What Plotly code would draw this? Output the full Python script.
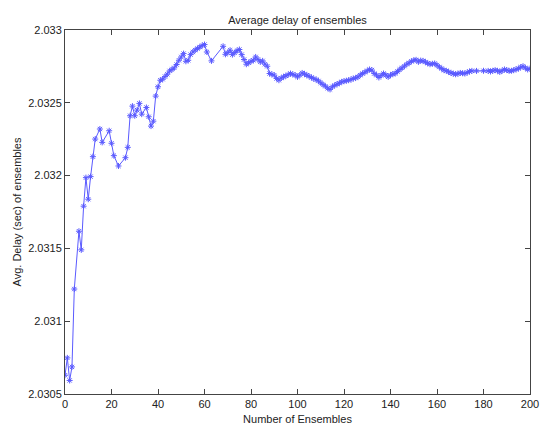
import plotly.graph_objects as go

# Running average of the delay as ensembles are added
ensembles = [
    0, 1, 2, 3, 4, 6, 7, 8, 9, 10, 11, 12, 13, 15, 16, 19, 20, 21, 23, 26,
    27, 28, 29, 30, 31, 32, 33, 35, 36, 37, 38, 39, 40, 41, 42, 43, 44, 45,
    46, 47, 48, 49, 50, 51, 52, 53, 54, 55, 56, 57, 58, 59, 60, 61, 63, 68,
    69, 70, 71, 72, 73, 74, 75, 76, 77, 78, 79, 80, 81, 82, 83, 84, 85, 86,
    87, 88, 89, 90, 91, 92, 93, 94, 95, 96, 97, 98, 99, 100, 101, 102, 103,
    104, 105, 106, 107, 108, 109, 110, 111, 112, 113, 114, 115, 116, 117,
    118, 119, 120, 121, 122, 123, 124, 125, 126, 127, 128, 129, 130, 131,
    132, 133, 134, 135, 136, 137, 138, 139, 140, 141, 142, 143, 144, 145,
    146, 147, 148, 149, 150, 151, 152, 153, 154, 155, 156, 157, 158, 159,
    160, 161, 162, 163, 164, 165, 166, 167, 168, 169, 170, 171, 172, 173,
    174, 175, 177, 180, 182, 183, 184, 185, 186, 187, 188, 189, 190, 191,
    192, 193, 194, 195, 196, 197, 198, 199, 200,
]
avg_delay = [
    2.030629, 2.030748, 2.030593, 2.030686, 2.031221, 2.031618, 2.031490,
    2.031790, 2.031986, 2.031838, 2.031993, 2.032130, 2.032251, 2.032320,
    2.032228, 2.032308, 2.032222, 2.032137, 2.032066, 2.032123, 2.032194,
    2.032411, 2.032477, 2.032411, 2.032450, 2.032496, 2.032422, 2.032468,
    2.032404, 2.032340, 2.032374, 2.032546, 2.032610, 2.032655, 2.032662,
    2.032680, 2.032696, 2.032719, 2.032729, 2.032740, 2.032763, 2.032792,
    2.032815, 2.032838, 2.032785, 2.032792, 2.032831, 2.032849, 2.032862,
    2.032873, 2.032883, 2.032893, 2.032900, 2.032849, 2.032788, 2.032888,
    2.032833, 2.032845, 2.032861, 2.032831, 2.032845, 2.032858, 2.032866,
    2.032831, 2.032797, 2.032765, 2.032775, 2.032785, 2.032792, 2.032815,
    2.032798, 2.032781, 2.032788, 2.032765, 2.032751, 2.032701, 2.032695,
    2.032690, 2.032667, 2.032655, 2.032670, 2.032678, 2.032685, 2.032693,
    2.032701, 2.032695, 2.032690, 2.032678, 2.032690, 2.032705, 2.032698,
    2.032690, 2.032682, 2.032674, 2.032665, 2.032660, 2.032650, 2.032637,
    2.032625, 2.032614, 2.032600, 2.032592, 2.032610, 2.032620, 2.032628,
    2.032635, 2.032644, 2.032648, 2.032652, 2.032655, 2.032660, 2.032667,
    2.032670, 2.032678, 2.032690, 2.032701, 2.032710, 2.032720, 2.032729,
    2.032725, 2.032701, 2.032690, 2.032674, 2.032688, 2.032701, 2.032690,
    2.032678, 2.032690, 2.032698, 2.032701, 2.032715, 2.032729, 2.032740,
    2.032752, 2.032765, 2.032774, 2.032785, 2.032792, 2.032795, 2.032781,
    2.032790, 2.032788, 2.032780, 2.032772, 2.032765, 2.032768, 2.032770,
    2.032758, 2.032746, 2.032735, 2.032724, 2.032720, 2.032712, 2.032705,
    2.032700, 2.032696, 2.032700, 2.032705, 2.032703, 2.032701, 2.032708,
    2.032715, 2.032719, 2.032719, 2.032720, 2.032719, 2.032715, 2.032720,
    2.032724, 2.032720, 2.032712, 2.032720, 2.032729, 2.032725, 2.032719,
    2.032720, 2.032724, 2.032730, 2.032735, 2.032745, 2.032751, 2.032740,
    2.032729, 2.032735,
]

x_ticks = [0, 20, 40, 60, 80, 100, 120, 140, 160, 180, 200]
y_ticks = [2.0305, 2.031, 2.0315, 2.032, 2.0325, 2.033]
y_tick_labels = ["2.0305", "2.031", "2.0315", "2.032", "2.0325", "2.033"]

FONT = "Liberation Sans, Arial, Helvetica, sans-serif"
AXIS_COLOR = "#444444"
TEXT_COLOR = "#222222"

fig = go.Figure(
    go.Scatter(
        x=ensembles,
        y=avg_delay,
        mode="lines+markers",
        line=dict(color="rgb(90,90,255)", width=1),
        marker=dict(symbol="asterisk-open", size=5,
                    line=dict(color="rgb(40,40,255)", width=1)),
        showlegend=False,
    )
)

axis_common = dict(
    automargin=False,
    showgrid=False,
    zeroline=False,
    showline=True,
    linecolor=AXIS_COLOR,
    linewidth=1,
    mirror="ticks",
    ticks="inside",
    ticklen=5,
    tickcolor=AXIS_COLOR,
    tickfont=dict(family=FONT, size=11, color=TEXT_COLOR),
)

fig.update_layout(
    width=542,
    height=428,
    margin=dict(l=65, r=12, t=30, b=34),
    paper_bgcolor="white",
    plot_bgcolor="white",
    title=dict(
        text="Average delay of ensembles",
        font=dict(family=FONT, size=11, color=TEXT_COLOR),
        x=0.5488,
        xanchor="center",
        y=0.953,
        yanchor="middle",
    ),
    xaxis=dict(
        axis_common,
        range=[0, 200],
        tickvals=x_ticks,
        ticktext=[str(v) for v in x_ticks],
        title=dict(text="Number of Ensembles",
                   font=dict(family=FONT, size=11, color=TEXT_COLOR),
                   standoff=6),
    ),
    yaxis=dict(
        axis_common,
        range=[2.0305, 2.033],
        tickvals=y_ticks,
        ticktext=y_tick_labels,
        title=dict(text="Avg. Delay (sec) of ensembles",
                   font=dict(family=FONT, size=11, color=TEXT_COLOR),
                   standoff=4),
    ),
)

fig.write_html("out.html")
